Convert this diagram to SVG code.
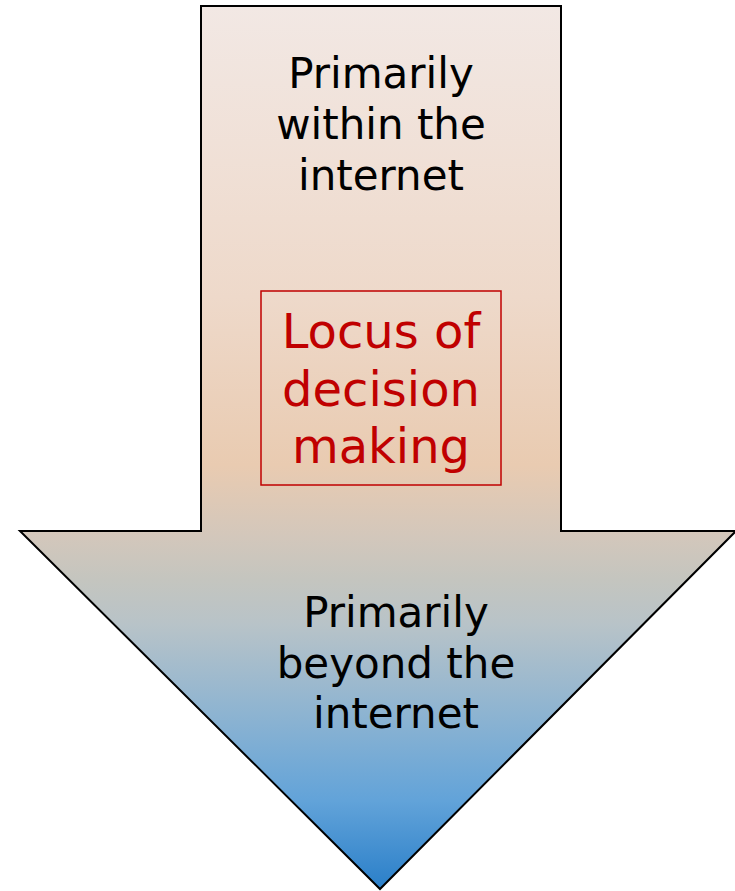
<svg xmlns="http://www.w3.org/2000/svg" width="735" height="891" viewBox="0 0 735 891">
<defs>
<linearGradient id="g" gradientUnits="userSpaceOnUse" x1="0" y1="6" x2="0" y2="889">
<stop offset="0" stop-color="#f2e8e4"/>
<stop offset="0.33" stop-color="#eed9ca"/>
<stop offset="0.52" stop-color="#e9cbb1"/>
<stop offset="0.6" stop-color="#d3c7bb"/>
<stop offset="0.65" stop-color="#c4c5bf"/>
<stop offset="0.7" stop-color="#b8c3c8"/>
<stop offset="0.8" stop-color="#8eb4d1"/>
<stop offset="0.9" stop-color="#62a3d9"/>
<stop offset="1" stop-color="#2a7fc9"/>
</linearGradient>
<style>
.t{font-family:"DejaVu Sans",Verdana,sans-serif;font-size:42px;fill:#000;text-anchor:middle}
.r{font-family:"DejaVu Sans",Verdana,sans-serif;font-size:48px;fill:#c00000;text-anchor:middle}
</style>
</defs>
<g id="arrow">
<polygon points="201,6 561,6 561,531 736,531 380,889 20,531 201,531" fill="url(#g)" stroke="#000" stroke-width="2" stroke-linejoin="miter"/>
</g>
<g id="top-label">
<text class="t" x="381" y="88">Primarily</text>
<text class="t" x="381" y="139">within the</text>
<text class="t" x="381" y="190">internet</text>
</g>
<g id="locus">
<rect x="261" y="291" width="240" height="194" fill="none" stroke="#c00000" stroke-width="1.5"/>
<text class="r" x="381" y="348">Locus of</text>
<text class="r" x="381" y="406">decision</text>
<text class="r" x="381" y="463">making</text>
</g>
<g id="bottom-label">
<text class="t" x="396" y="627">Primarily</text>
<text class="t" x="396" y="678">beyond the</text>
<text class="t" x="396" y="728">internet</text>
</g>
<g id="connectors"/>
</svg>
